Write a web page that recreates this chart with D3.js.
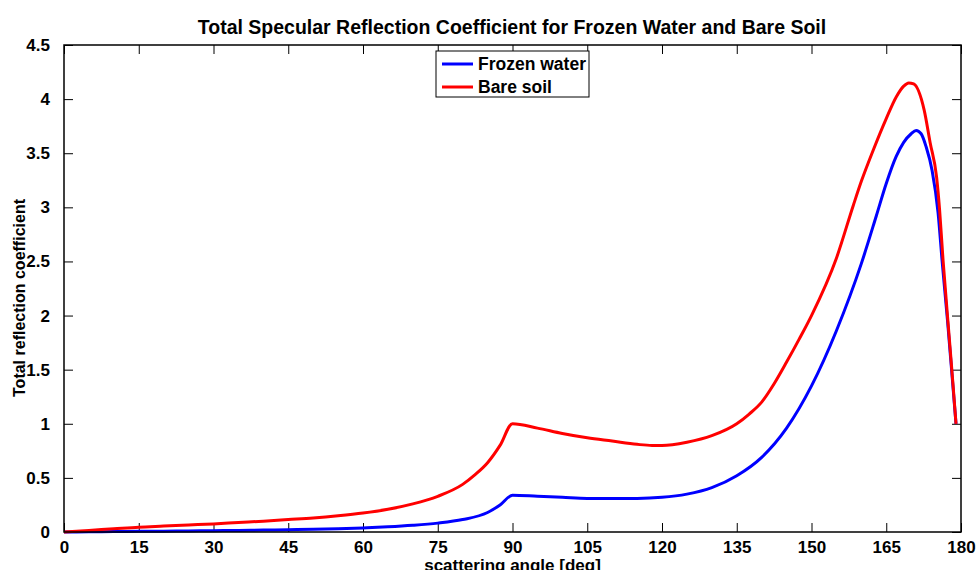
<!DOCTYPE html>
<html>
<head>
<meta charset="utf-8">
<script src="https://cdn.jsdelivr.net/npm/d3@7"></script>
<style>
  body { margin: 0; background: #fff; }
  text { font-family: "Liberation Sans", Arial, sans-serif; font-weight: bold; fill: #000; }
</style>
</head>
<body>
<div id="chart"></div>
<script>
// angles in degrees and reflection values
var waterAngle = [0, 5, 10, 15, 20, 25, 30, 35, 40, 45, 50, 55, 60, 65, 70, 75, 80, 85, 87.5, 90,
  95, 100, 105, 110, 115, 120, 125, 130, 135, 140, 145, 150, 155, 160, 163, 165, 167, 168.5, 170, 171, 172, 173, 174.2, 175.4, 176.2, 177.3, 178.2, 179];
var waterValue = [0, 0.002, 0.004, 0.006, 0.008, 0.01, 0.012, 0.015, 0.018, 0.021, 0.025, 0.03, 0.038, 0.048, 0.062, 0.082, 0.115, 0.18, 0.25, 0.34,
  0.33, 0.32, 0.31, 0.31, 0.31, 0.32, 0.35, 0.41, 0.52, 0.69, 0.96, 1.35, 1.86, 2.48, 2.92, 3.22, 3.47, 3.60, 3.68, 3.71, 3.68, 3.56, 3.34, 2.95, 2.51, 1.95, 1.45, 1.0];

var soilAngle = [0, 5, 10, 15, 20, 25, 30, 35, 40, 45, 50, 55, 60, 65, 70, 75, 80, 82.5, 85, 87.5, 90,
  95, 100, 105, 110, 115, 118, 120, 125, 130, 135, 137.5, 140, 142.5, 145, 147.5, 150, 155, 158.4, 160, 162.4, 165, 167, 168.5, 169.5, 170.5, 172.6, 173.8, 175.1, 175.7, 176.4, 177.6, 178.4, 179];
var soilValue = [0, 0.015, 0.03, 0.045, 0.055, 0.065, 0.075, 0.088, 0.1, 0.115, 0.13, 0.15, 0.175, 0.21, 0.26, 0.33, 0.44, 0.53, 0.64, 0.8, 1.0,
  0.96, 0.91, 0.87, 0.84, 0.81, 0.80, 0.80, 0.83, 0.89, 1.0, 1.09, 1.2, 1.37, 1.57, 1.78, 2.0, 2.53, 3.02, 3.24, 3.53, 3.82, 4.02, 4.12, 4.15, 4.14, 3.9, 3.6, 3.28, 2.98, 2.51, 1.82, 1.36, 1.0];

var xTicks = [0, 15, 30, 45, 60, 75, 90, 105, 120, 135, 150, 165, 180];
var yTicks = [0, 0.5, 1, 1.5, 2, 2.5, 3, 3.5, 4, 4.5];

var svgWidth = 978;
var svgHeight = 570;
var margin = { top: 45, right: 17, bottom: 38, left: 64 };
var width = svgWidth - margin.left - margin.right;
var height = svgHeight - margin.top - margin.bottom;

var svg = d3.select("#chart")
  .append("svg")
  .attr("width", svgWidth)
  .attr("height", svgHeight);

var chartGroup = svg.append("g")
  .attr("transform", `translate(${margin.left}, ${margin.top})`);

var x = d3.scaleLinear().domain([0, 180]).range([0, width]);
var y = d3.scaleLinear().domain([0, 4.5]).range([height, 0]);

// ticks point inward on all four sides
var bottomAxis = d3.axisBottom(x).tickValues(xTicks).tickSizeInner(-9).tickSizeOuter(0).tickPadding(9);
var topAxis = d3.axisTop(x).tickValues(xTicks).tickSizeInner(-9).tickSizeOuter(0).tickFormat("");
var leftAxis = d3.axisLeft(y).tickValues(yTicks).tickSizeInner(-9).tickSizeOuter(0).tickPadding(14).tickFormat(d3.format("~g"));
var rightAxis = d3.axisRight(y).tickValues(yTicks).tickSizeInner(-9).tickSizeOuter(0).tickFormat("");

function styleAxis(g) {
  g.select(".domain").remove();
  g.selectAll(".tick line").attr("stroke", "#000").attr("stroke-width", 1);
  g.selectAll(".tick text").attr("font-size", "17px").attr("font-family", "Liberation Sans, Arial, sans-serif").attr("font-weight", "bold").attr("fill", "#000");
}

chartGroup.append("g").attr("transform", `translate(0, ${height})`).call(bottomAxis).call(styleAxis);
chartGroup.append("g").call(topAxis).call(styleAxis);
chartGroup.append("g").call(leftAxis).call(styleAxis);
chartGroup.append("g").attr("transform", `translate(${width}, 0)`).call(rightAxis).call(styleAxis);

var line = d3.line()
  .x(d => x(d[0]))
  .y(d => y(d[1]))
  .curve(d3.curveMonotoneX);

chartGroup.append("path")
  .datum(d3.zip(waterAngle, waterValue))
  .attr("fill", "none")
  .attr("stroke", "#0000ff")
  .attr("stroke-width", 3)
  .attr("d", line);

chartGroup.append("path")
  .datum(d3.zip(soilAngle, soilValue))
  .attr("fill", "none")
  .attr("stroke", "#ff0000")
  .attr("stroke-width", 3)
  .attr("d", line);

// frame
chartGroup.append("rect")
  .attr("width", width)
  .attr("height", height)
  .attr("fill", "none")
  .attr("stroke", "#000")
  .attr("stroke-width", 1.5);

// legend
var legend = svg.append("g").attr("transform", "translate(436, 51)");
legend.append("rect")
  .attr("width", 153)
  .attr("height", 46)
  .attr("fill", "#fff")
  .attr("stroke", "#000")
  .attr("stroke-width", 1);

var legendItems = [["Frozen water", "#0000ff"], ["Bare soil", "#ff0000"]];
legendItems.forEach(function (item, i) {
  legend.append("line")
    .attr("x1", 6).attr("x2", 37)
    .attr("y1", 13 + i * 23).attr("y2", 13 + i * 23)
    .attr("stroke", item[1])
    .attr("stroke-width", 3);
  legend.append("text")
    .attr("x", 42)
    .attr("y", 19 + i * 23)
    .attr("font-size", "17.5px")
    .text(item[0]);
});

// title and axis labels
svg.append("text")
  .attr("x", 512)
  .attr("y", 34)
  .attr("text-anchor", "middle")
  .attr("font-size", "19.5px")
  .text("Total Specular Reflection Coefficient for Frozen Water and Bare Soil");

svg.append("text")
  .attr("x", margin.left + width / 2)
  .attr("y", 571)
  .attr("text-anchor", "middle")
  .attr("font-size", "17px")
  .text("scattering angle [deg]");

svg.append("text")
  .attr("transform", "translate(25, 298) rotate(-90)")
  .attr("text-anchor", "middle")
  .attr("font-size", "16px")
  .text("Total reflection coefficient");
</script>
</body>
</html>
